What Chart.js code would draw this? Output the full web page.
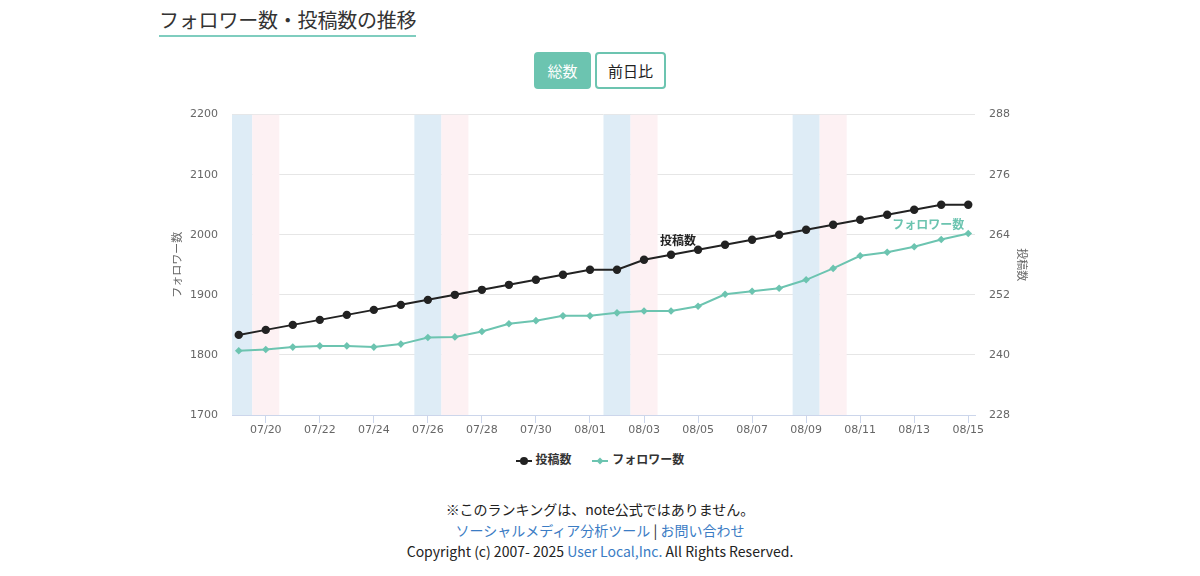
<!DOCTYPE html>
<html lang="ja">
<head>
<meta charset="utf-8">
<script src="https://cdn.jsdelivr.net/npm/chart.js@4"></script>
<style>
  body { margin: 0; width: 1200px; height: 576px; background: #fff; font-family: 'Noto Sans CJK JP', sans-serif; color: #222; position: relative; overflow: hidden; }
  .title { position: absolute; left: 159px; top: 6px; font-size: 20px; line-height: 28px; padding-bottom: 1px; border-bottom: 2px solid #7fcdbf; color: #333; letter-spacing: -0.2px; }
  .btn { position: absolute; top: 52px; height: 37px; box-sizing: border-box; border-radius: 4px; font-size: 15px; line-height: 33px; text-align: center; border: 2px solid #6cc4b0; }
  .btn.on { left: 534px; width: 57px; background: #6cc4b0; color: #fff; }
  .btn.off { left: 595px; width: 71px; background: #fff; color: #222; }
  #wrap { position: absolute; left: 160px; top: 94px; width: 880px; height: 346px; }
  .legend { position: absolute; left: 0; width: 1200px; top: 450px; text-align: center; font-size: 12px; font-weight: bold; color: #333; }
  .legend span { display: inline-block; margin: 0 9px; }
  .legend canvas { vertical-align: middle; margin-right: 4px; }
  .foot { position: absolute; left: 0; width: 1200px; text-align: center; font-size: 14px; color: #222; }
  .foot a { color: #3b7cc4; text-decoration: none; }
</style>
</head>
<body>
<div class="title">フォロワー数・投稿数の推移</div>
<div class="btn on">総数</div>
<div class="btn off">前日比</div>
<div id="wrap"><canvas id="trendChart"></canvas></div>
<div class="legend">
  <span><canvas id="lgPosts" width="16" height="10"></canvas>投稿数</span>
  <span><canvas id="lgFollowers" width="16" height="10"></canvas>フォロワー数</span>
</div>
<div class="foot" style="top:499px;">※このランキングは、note公式ではありません。</div>
<div class="foot" style="top:520px;"><a href="#">ソーシャルメディア分析ツール</a> | <a href="#">お問い合わせ</a></div>
<div class="foot" style="top:541px;">Copyright (c) 2007- 2025 <a href="#">User Local,Inc.</a> All Rights Reserved.</div>
<script>
// dates 2025
const dates = ['07/19','07/20','07/21','07/22','07/23','07/24','07/25','07/26','07/27','07/28',
  '07/29','07/30','07/31','08/01','08/02','08/03','08/04','08/05','08/06','08/07',
  '08/08','08/09','08/10','08/11','08/12','08/13','08/14','08/15'];
const posts = [244,245,246,247,248,249,250,251,252,253,254,255,256,257,257,259,260,261,262,263,
  264,265,266,267,268,269,270,270];
const followers = [1807,1809,1813,1815,1815,1813,1818,1829,1830,1839,1852,1857,1865,1865,1870,1873,
  1873,1881,1901,1906,1911,1925,1944,1965,1971,1980,1992,2002];
const followerTicks = [1700,1800,1900,2000,2100,2200];
const postTicks = [228,240,252,264,276,288];

const BLACK = '#222222';
const GREEN = '#6cc4b0';

function weekday(label) {
  const [m, d] = label.split('/').map(Number);
  return new Date(2025, m - 1, d).getDay();
}

// weekend bands: saturday blue, sunday pink
const weekendBands = {
  id: 'weekendBands',
  beforeDatasetsDraw(chart) {
    const { ctx, chartArea, scales } = chart;
    ctx.save();
    ctx.beginPath();
    ctx.rect(chartArea.left, chartArea.top, chartArea.right - chartArea.left, chartArea.bottom - chartArea.top);
    ctx.clip();
    dates.forEach((d, i) => {
      const wd = weekday(d);
      if (wd !== 0 && wd !== 6) return;
      const x0 = scales.x.getPixelForValue(i - 0.5);
      const x1 = scales.x.getPixelForValue(i + 0.5);
      ctx.fillStyle = wd === 6 ? '#deecf6' : '#fdf1f3';
      ctx.fillRect(x0, chartArea.top, x1 - x0, chartArea.bottom - chartArea.top);
    });
    ctx.restore();
  }
};

// series names next to the lines
const seriesLabels = {
  id: 'seriesLabels',
  afterDatasetsDraw(chart) {
    const { ctx, scales } = chart;
    ctx.save();
    ctx.font = "bold 12px 'Noto Sans CJK JP'";
    ctx.textBaseline = 'middle';
    const pi = 16;
    ctx.fillStyle = BLACK;
    ctx.textAlign = 'center';
    ctx.fillText('投稿数', scales.x.getPixelForValue(pi) + 7, scales.y2.getPixelForValue(posts[pi]) - 14);
    const fi = followers.length - 1;
    ctx.fillStyle = GREEN;
    ctx.textAlign = 'right';
    ctx.fillText('フォロワー数', scales.x.getPixelForValue(fi) - 4, scales.y.getPixelForValue(followers[fi]) - 9);
    ctx.restore();
  }
};

const ctx = document.getElementById('trendChart').getContext('2d');
new Chart(ctx, {
  type: 'line',
  data: {
    datasets: [
      {
        label: '投稿数',
        data: posts.map((v, i) => ({ x: i, y: v })),
        yAxisID: 'y2',
        borderColor: BLACK,
        backgroundColor: BLACK,
        borderWidth: 2,
        pointStyle: 'circle',
        pointRadius: 4.2,
        pointBorderWidth: 0,
        pointHoverRadius: 4.2,
        tension: 0
      },
      {
        label: 'フォロワー数',
        data: followers.map((v, i) => ({ x: i, y: v })),
        yAxisID: 'y',
        borderColor: GREEN,
        backgroundColor: GREEN,
        borderWidth: 2,
        pointStyle: 'rectRot',
        pointRadius: 3.8,
        pointBorderWidth: 0,
        pointHoverRadius: 3.8,
        tension: 0
      }
    ]
  },
  options: {
    responsive: true,
    maintainAspectRatio: false,
    animation: false,
    layout: { padding: { top: 0 } },
    plugins: { legend: { display: false }, tooltip: { enabled: false } },
    scales: {
      x: {
        type: 'linear',
        min: -0.25,
        max: dates.length - 0.75,
        afterBuildTicks(scale) {
          scale.ticks = dates.map((d, i) => ({ value: i })).filter(t => t.value % 2 === 1);
        },
        afterFit(scale) { scale.height = 25; },
        grid: { drawOnChartArea: false, drawTicks: true, tickLength: 8, color: '#ccd6eb' },
        border: { display: true, color: '#ccd6eb' },
        ticks: {
          padding: 1,
          maxRotation: 0,
          autoSkip: false,
          color: '#666',
          font: { family: 'DejaVu Sans', size: 11 },
          callback: v => dates[v]
        }
      },
      y: {
        position: 'left',
        min: 1700,
        max: 2200,
        afterBuildTicks(scale) { scale.ticks = followerTicks.map(v => ({ value: v })); },
        afterFit(scale) { scale.width = 72; },
        grid: { color: '#e6e6e6', drawTicks: false },
        border: { display: false },
        ticks: { padding: 14, color: '#666', font: { family: 'DejaVu Sans', size: 11 }, callback: v => String(v) },
        title: { display: true, text: 'フォロワー数', color: '#666', padding: { top: 10 }, font: { family: 'Noto Sans CJK JP', size: 11 } }
      },
      y2: {
        position: 'right',
        min: 228,
        max: 288,
        afterBuildTicks(scale) { scale.ticks = postTicks.map(v => ({ value: v })); },
        afterFit(scale) { scale.width = 65; },
        grid: { drawOnChartArea: false, drawTicks: false },
        border: { display: false },
        ticks: { padding: 14, color: '#666', font: { family: 'DejaVu Sans', size: 11 }, callback: v => String(v) },
        title: { display: true, text: '投稿数', color: '#666', padding: { top: 11 }, font: { family: 'Noto Sans CJK JP', size: 11 } }
      }
    }
  },
  plugins: [weekendBands, seriesLabels]
});

// legend symbols
function legendMark(id, color, diamond) {
  const c = document.getElementById(id).getContext('2d');
  c.strokeStyle = color; c.fillStyle = color; c.lineWidth = 2;
  c.beginPath(); c.moveTo(0, 5); c.lineTo(16, 5); c.stroke();
  c.beginPath();
  if (diamond) { c.moveTo(8, 1.5); c.lineTo(11.5, 5); c.lineTo(8, 8.5); c.lineTo(4.5, 5); c.closePath(); }
  else { c.arc(8, 5, 4, 0, Math.PI * 2); }
  c.fill();
}
legendMark('lgPosts', BLACK, false);
legendMark('lgFollowers', GREEN, true);
</script>
</body>
</html>
